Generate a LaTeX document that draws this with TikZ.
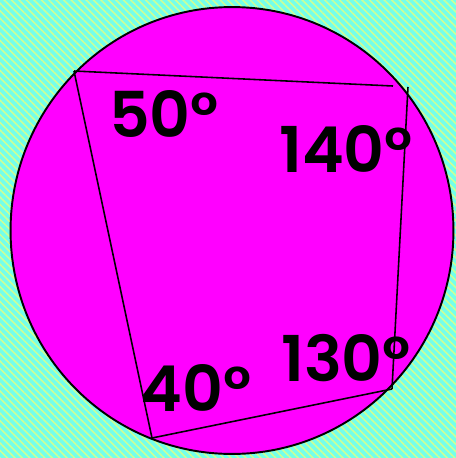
\documentclass[tikz,border=0pt]{standalone}
\usepackage{fontspec}
\setmainfont{Poppins}[BoldFont={Poppins SemiBold}]
\usetikzlibrary{patterns.meta}
\definecolor{bgcyan}{RGB}{115,255,235}
\definecolor{bgstripe}{RGB}{205,255,150}
\definecolor{disc}{RGB}{255,0,255}

\begin{document}
\begin{tikzpicture}[x=0.02cm,y=-0.02cm,
  angle/.style={font=\fontsize{36}{36}\selectfont\bfseries,inner sep=0pt},
  chord/.style={draw=black,line width=0.9pt},
  rim/.style={draw=black,line width=1.1pt,fill=disc}
]
  % background
  \fill[bgcyan] (0,0) rectangle (456,458);
  \fill[pattern={Lines[angle=-45,distance=3pt,line width=0.9pt]},pattern color=bgstripe] (0,0) rectangle (456,458);
  \useasboundingbox (0,0) rectangle (456,458);

  \draw[rim] (232,230.5) ellipse [x radius=4.43cm, y radius=4.47cm];

  % corners of the quadrilateral
  \coordinate (tl) at (74,71);
  \coordinate (tr) at (393,86);
  \coordinate (rt) at (408,87);
  \coordinate (br) at (392,389);
  \coordinate (bl) at (152,438);

  \draw[chord] (tl) -- (tr);
  \draw[chord] (rt) -- (br);
  \draw[chord] (br) -- (bl);
  \draw[chord] (bl) -- (tl);

  \node[angle](a50)  at (164,114) {50°};
  \node[angle](a140) at (346,149) {140°};
  \node[angle](a130) at (346,358) {130°};
  \node[angle](a40)  at (196,388) {40°};
\end{tikzpicture}
\end{document}
